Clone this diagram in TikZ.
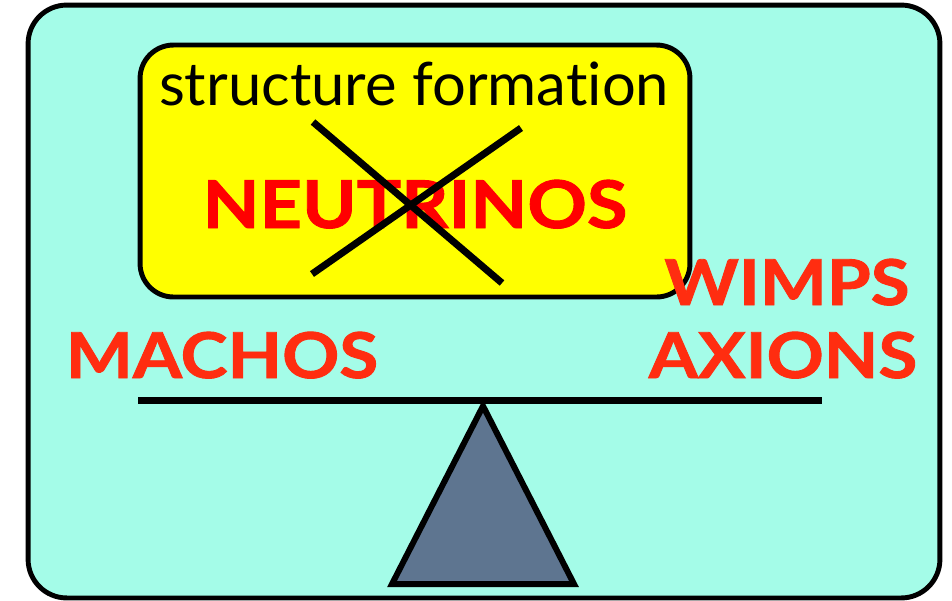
\documentclass[tikz,border=0pt]{standalone}
\usepackage{fontspec}
\setmainfont{Lato}[Ligatures=NoCommon]
\newfontfamily\widefont[FakeStretch=1.12, FakeBold=1.4]{Lato}
\usetikzlibrary{positioning}
\definecolor{aqua}{HTML}{A4FCE8}
\definecolor{slab}{HTML}{5E7590}
\definecolor{hotred}{HTML}{FF2D10}
\definecolor{lemon}{HTML}{FFFF00}
\tikzset{
  frame/.style ={rectangle, rounded corners=22pt, draw=black, line width=2.8pt,
                 inner sep=0pt},
  tag/.style   ={text=hotred, font=\widefont\bfseries\fontsize{36}{40}\selectfont,
                 inner sep=0pt, anchor=base},
  stroke/.style={line width=4pt, draw=black},
}

\begin{document}
\begin{tikzpicture}[x=0.02cm, y=-0.02cm]
  \useasboundingbox (0,0) rectangle (952,600);
  \node[frame, fill=aqua, minimum width=18.24cm, minimum height=11.86cm] (bg) at (484,301.5) {};
  \node[frame, fill=lemon, rounded corners=19pt, minimum width=11cm,
        minimum height=5.04cm] (sf) at (415,171) {};

  \node[anchor=base, inner sep=0pt, font=\fontsize{34}{38}\selectfont] (sft) at (414,105) {structure formation};
  \node[tag, text=red, font=\widefont\bfseries\fontsize{37.5}{40}\selectfont] (nu) at (415,228) {NEUTRINOS};
  % crossed out
  \draw[stroke] (313,122) -- (502,283);
  \draw[stroke] (521,128) -- (312,274);

  \node[tag] (wimps) at (787,305) {WIMPS};
  \node[tag] (axions) at (783,378) {AXIONS};
  \node[tag] (machos) at (222,378) {MACHOS};

  % balance
  \draw[stroke] (138,400) -- (822,400);
  \draw[line width=3.4pt, fill=slab, line join=miter] (483,406) -- (574,584) -- (392,584) -- cycle;
\end{tikzpicture}
\end{document}
